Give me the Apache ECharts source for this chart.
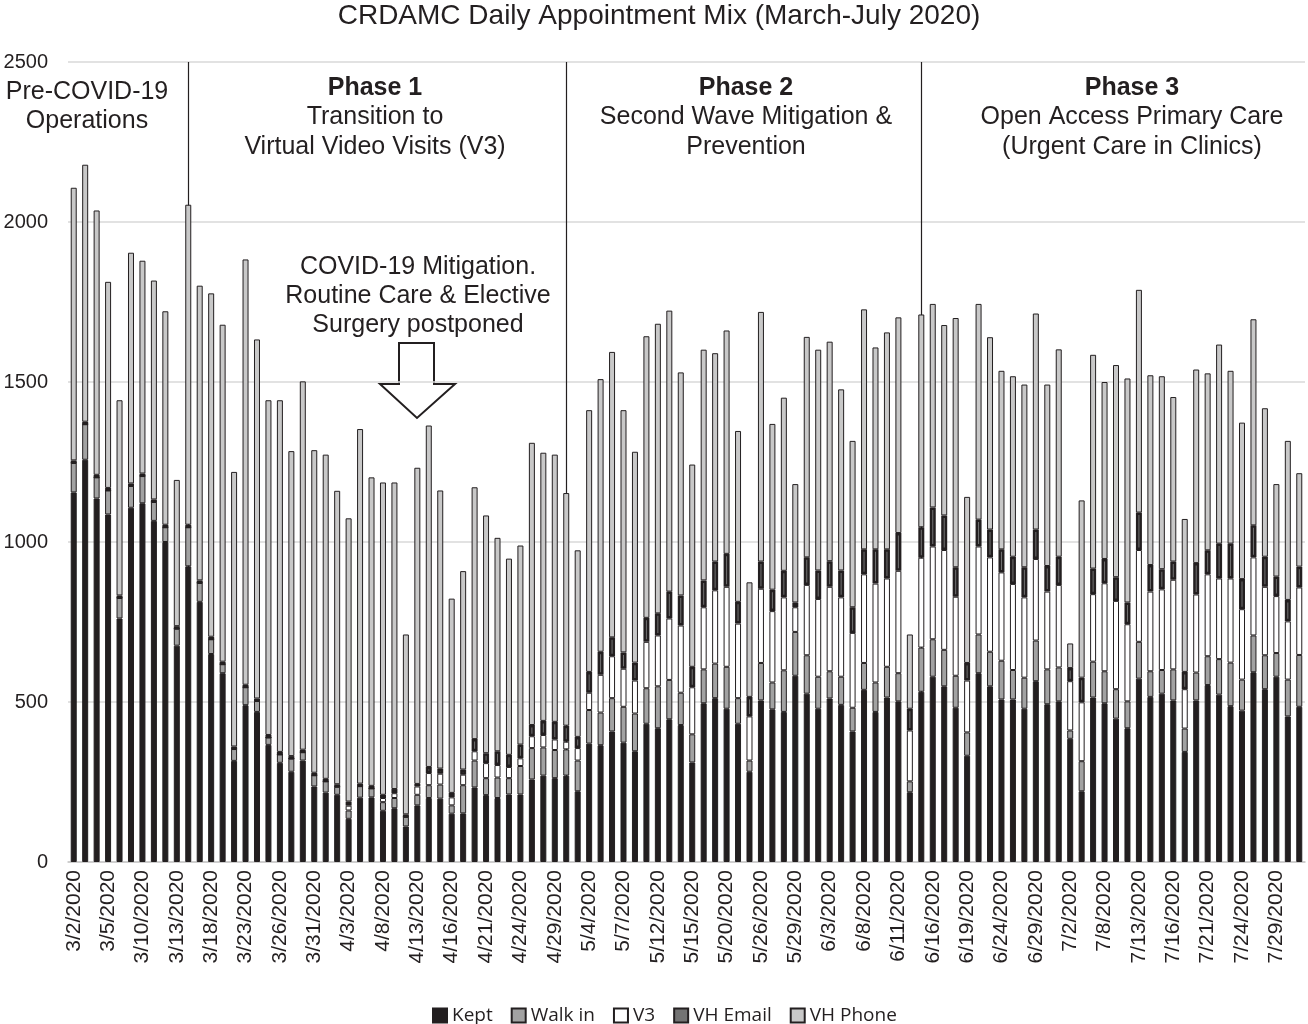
<!DOCTYPE html>
<html>
<head>
<meta charset="utf-8">
<script src="https://cdn.jsdelivr.net/npm/echarts@6/dist/echarts.min.js"></script>
<style>
html,body{margin:0;padding:0;background:#fff;}
#chart{width:1308px;height:1024px;}
</style>
</head>
<body>
<div id="chart"></div>
<script>
const dates = [
 '3/2/2020','3/3/2020','3/4/2020','3/5/2020','3/6/2020','3/9/2020','3/10/2020','3/11/2020','3/12/2020','3/13/2020',
 '3/16/2020','3/17/2020','3/18/2020','3/19/2020','3/20/2020','3/23/2020','3/24/2020','3/25/2020','3/26/2020','3/27/2020',
 '3/30/2020','3/31/2020','4/1/2020','4/2/2020','4/3/2020','4/6/2020','4/7/2020','4/8/2020','4/9/2020','4/10/2020',
 '4/13/2020','4/14/2020','4/15/2020','4/16/2020','4/17/2020','4/20/2020','4/21/2020','4/22/2020','4/23/2020','4/24/2020',
 '4/27/2020','4/28/2020','4/29/2020','4/30/2020','5/1/2020','5/4/2020','5/5/2020','5/6/2020','5/7/2020','5/8/2020',
 '5/11/2020','5/12/2020','5/13/2020','5/14/2020','5/15/2020','5/18/2020','5/19/2020','5/20/2020','5/21/2020','5/22/2020',
 '5/26/2020','5/27/2020','5/28/2020','5/29/2020','6/1/2020','6/2/2020','6/3/2020','6/4/2020','6/5/2020','6/8/2020',
 '6/9/2020','6/10/2020','6/11/2020','6/12/2020','6/15/2020','6/16/2020','6/17/2020','6/18/2020','6/19/2020','6/22/2020',
 '6/23/2020','6/24/2020','6/25/2020','6/26/2020','6/29/2020','6/30/2020','7/1/2020','7/2/2020','7/6/2020','7/7/2020',
 '7/8/2020','7/9/2020','7/10/2020','7/13/2020','7/14/2020','7/15/2020','7/16/2020','7/17/2020','7/20/2020','7/21/2020',
 '7/22/2020','7/23/2020','7/24/2020','7/27/2020','7/28/2020','7/29/2020','7/30/2020','7/31/2020'
];
const kept = [
 1155,1257,1136,1086,761,1107,1121,1066,1000,676,
 924,813,650,590,316,490,469,366,310,282,
 317,236,217,210,135,201,202,160,168,111,
 177,200,198,151,152,233,209,200,211,211,
 258,270,262,270,221,370,365,408,373,346,
 432,418,446,428,311,496,512,479,432,282,
 505,477,469,582,526,479,511,491,408,538,
 469,514,502,218,532,579,549,482,332,590,
 549,508,508,479,565,493,502,385,221,514,
 496,448,418,573,516,526,505,344,505,553,
 523,487,473,593,540,579,455,485
];
const walkIn = [
 92,111,66,75,64,68,85,59,46,53,
 122,59,46,28,37,56,34,23,26,41,
 26,35,35,25,26,36,28,27,32,30,
 33,40,44,26,88,84,53,64,51,89,
 98,88,88,82,96,105,102,104,112,118,
 111,131,123,101,88,106,108,131,80,35,
 117,84,130,137,120,100,85,88,74,84,
 92,96,88,34,138,117,114,100,73,121,
 108,121,92,97,127,109,106,26,94,112,
 100,92,84,115,80,74,97,73,87,90,
 111,136,97,115,106,74,115,162
];
const v3 = [
 0,0,0,0,0,0,0,0,0,0,
 0,0,0,0,0,0,0,0,0,0,
 0,0,0,0,15,0,0,13,15,0,
 26,38,34,25,33,29,47,39,35,24,
 37,39,33,24,39,54,118,131,119,103,
 145,159,192,210,147,194,229,250,233,138,
 232,223,228,77,220,243,264,248,234,277,
 309,276,320,159,281,290,312,247,162,275,
 295,276,269,251,255,243,258,154,184,211,
 275,276,241,287,249,252,280,123,244,256,
 252,263,220,244,214,178,182,211
];
const vhEmail = [
 8,8,8,8,8,8,8,8,8,8,
 8,8,8,8,8,8,8,8,8,8,
 8,8,8,8,13,8,8,10,13,8,
 8,19,16,14,16,38,31,43,38,43,
 35,44,55,50,35,65,72,59,51,56,
 75,69,84,94,64,84,90,103,68,61,
 85,67,83,15,86,89,80,84,80,78,
 107,91,118,68,95,122,108,92,55,84,
 87,72,85,94,92,80,88,41,77,80,
 76,74,68,117,83,63,57,54,98,75,
 109,109,94,100,94,61,67,65
];
const vhPhone = [
 852,803,826,644,610,721,665,684,667,457,
 1000,921,1073,1053,858,1329,1122,1046,1099,953,
 1151,1008,1013,917,885,1108,964,976,958,562,
 988,1067,869,607,620,787,743,667,613,622,
 882,838,835,727,583,818,852,892,757,659,
 880,905,878,697,632,721,651,698,534,358,
 780,518,541,370,689,690,686,566,520,750,
 631,678,674,232,665,636,595,779,519,674,
 601,558,564,571,675,567,648,77,554,668,
 553,663,700,696,593,603,514,478,605,553,
 622,540,489,644,464,289,497,292
];
const yTicks = [0, 500, 1000, 1500, 2000, 2500];
const phaseStarts = ['3/16/2020', '4/30/2020', '6/15/2020'];

const INK = '#231f20';
const FONT = '"Liberation Sans", Arial, sans-serif';
const chart = echarts.init(document.getElementById('chart'), null, {renderer: 'canvas'});

function seg(name, data, color, bw) {
  return {
    name: name, type: 'bar', stack: 'all', data: data, barWidth: 6,
    itemStyle: {color: color, borderColor: INK, borderWidth: bw},
    emphasis: {disabled: true}
  };
}
const series = [
  seg('Kept', kept, INK, 1),
  seg('Walk in', walkIn, '#a2a2a2', 1),
  seg('V3', v3, '#ffffff', 1),
  seg('VH Email', vhEmail, '#737373', 2.5),
  seg('VH Phone', vhPhone, '#c8c8c8', 1)
];
series[0].markLine = {
  z: 1, silent: true, symbol: ['none', 'none'], label: {show: false},
  lineStyle: {color: INK, width: 1.2, type: 'solid'},
  data: phaseStarts.map(d => ({xAxis: d}))
};

function txt(x, y, s, size, bold) {
  return {type: 'text', x: x, y: y, silent: true,
    style: {text: s, fill: INK, align: 'center', verticalAlign: 'middle',
      font: (bold ? 'bold ' : '') + size + 'px ' + FONT}};
}

chart.setOption({
  animation: false,
  backgroundColor: '#fff',
  grid: {left: 68, right: 3, top: 62, bottom: 162, containLabel: false, outerBoundsMode: 'none'},
  legend: {
    data: ['Kept', 'Walk in', 'V3', 'VH Email', 'VH Phone'],
    left: 427, top: 1001, itemWidth: 14, itemHeight: 14, itemGap: 18,
    icon: 'rect',
    textStyle: {color: INK, fontSize: 19, fontFamily: '"Open Sans", "Noto Sans", sans-serif'}
  },
  xAxis: {
    type: 'category', data: dates,
    axisLine: {show: true, lineStyle: {color: '#c8c8c8', width: 1.5}},
    axisTick: {show: false},
    axisLabel: {interval: 2, rotate: 90, fontSize: 21, fontFamily: FONT, color: INK, margin: 8}
  },
  yAxis: {
    type: 'value', min: yTicks[0], max: yTicks[yTicks.length - 1], interval: 500,
    axisLine: {show: false}, axisTick: {show: false},
    axisLabel: {fontSize: 20, fontFamily: FONT, color: INK, margin: 20, formatter: v => String(v)},
    splitLine: {lineStyle: {color: '#d9d9d9', width: 1.5}}
  },
  series: series,
  graphic: [
    txt(659, 16, 'CRDAMC Daily Appointment Mix (March-July 2020)', 28, false),
    txt(87, 92, 'Pre-COVID-19', 25, false),
    txt(87, 121, 'Operations', 25, false),
    txt(375, 88, 'Phase 1', 25, true),
    txt(375, 117, 'Transition to', 25, false),
    txt(375, 147, 'Virtual Video Visits (V3)', 25, false),
    txt(746, 88, 'Phase 2', 25, true),
    txt(746, 117, 'Second Wave Mitigation &', 25, false),
    txt(746, 147, 'Prevention', 25, false),
    txt(1132, 88, 'Phase 3', 25, true),
    txt(1132, 117, 'Open Access Primary Care', 25, false),
    txt(1132, 147, '(Urgent Care in Clinics)', 25, false),
    txt(418, 267, 'COVID-19 Mitigation.', 25, false),
    txt(418, 296, 'Routine Care & Elective', 25, false),
    txt(418, 325, 'Surgery postponed', 25, false),
    {type: 'polygon', silent: true,
     shape: {points: [[399,343],[434,343],[434,384],[455,384],[417,418],[380,384],[399,384]]},
     style: {fill: '#fff', stroke: INK, lineWidth: 2}}
  ]
});
</script>
</body>
</html>
